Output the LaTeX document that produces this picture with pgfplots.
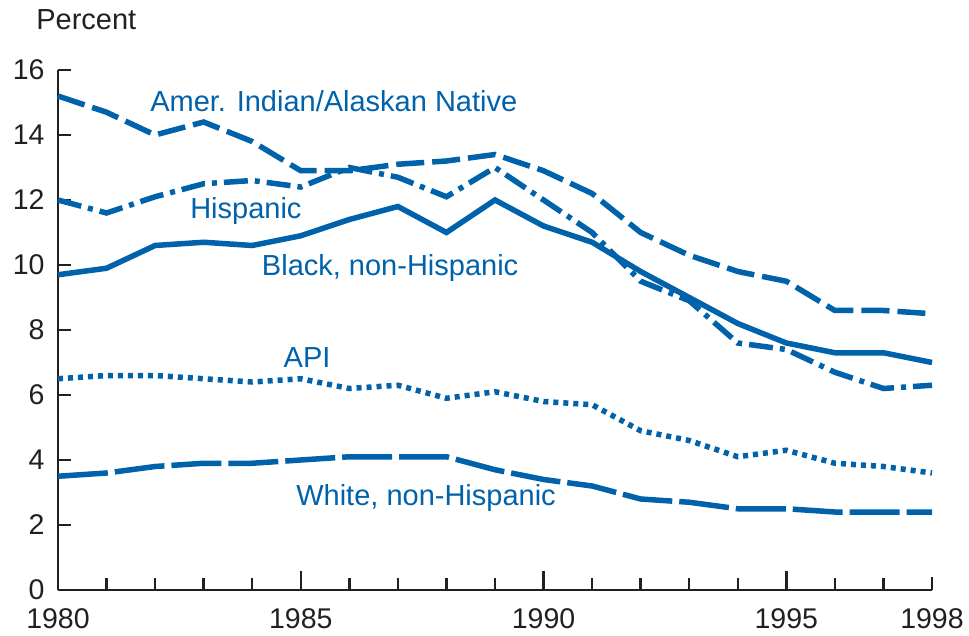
\documentclass[border=0pt]{standalone}
\usepackage{pgfplots}
\pgfplotsset{compat=1.18}
\usepackage{fontspec}
\setmainfont{Liberation Sans}
\definecolor{ersblue}{HTML}{0062AB}
\definecolor{axgray}{HTML}{231F20}
\begin{document}
\begin{tikzpicture}
\begin{axis}[
  scale only axis, width=874pt, height=520pt,
  xmin=1980, xmax=1998, ymin=0, ymax=16,
  axis x line=bottom, axis y line=left,
  axis line style={-, line width=2.4pt, color=axgray},
  every tick/.style={line width=2.4pt, color=axgray},
  tick align=inside,
  major tick length=13pt, minor tick length=12pt,
  xtick={1980,1998},
  extra x ticks={1985,1990,1995},
  extra x tick style={major tick length=19pt},
  minor xtick={1981,1982,1983,1984,1986,1987,1988,1989,1991,1992,1993,1994,1996,1997},
  ytick={0,2,...,16},
  /pgf/number format/assume math mode=true,
  /pgf/number format/1000 sep={},
  tick label style={font=\fontsize{28.5}{33}\selectfont, color=axgray},
  yticklabel style={xshift=-10pt},
  xticklabel style={yshift=-15pt},
  clip=false,
  every axis plot/.append style={color=ersblue, line width=5.5pt, line join=miter},
]
% Amer. Indian/Alaskan Native
\addplot[dash pattern=on 28pt off 8pt] coordinates {
(1980,15.2) (1981,14.7) (1982,14.0) (1983,14.4) (1984,13.8) (1985,12.9) (1986,12.9)
(1987,13.1) (1988,13.2) (1989,13.4) (1990,12.9) (1991,12.2) (1992,11.0) (1993,10.3)
(1994,9.8) (1995,9.5) (1996,8.6) (1997,8.6) (1998,8.5)};
% Hispanic
\addplot[dash pattern=on 24pt off 7pt on 5pt off 7pt] coordinates {
(1980,12.0) (1981,11.6) (1982,12.1) (1983,12.5) (1984,12.6) (1985,12.4) (1986,13.0)
(1987,12.7) (1988,12.1) (1989,13.0) (1990,12.0) (1991,11.0) (1992,9.5) (1993,8.9)
(1994,7.6) (1995,7.4) (1996,6.7) (1997,6.2) (1998,6.3)};
% Black, non-Hispanic
\addplot[solid] coordinates {
(1980,9.7) (1981,9.9) (1982,10.6) (1983,10.7) (1984,10.6) (1985,10.9) (1986,11.4)
(1987,11.8) (1988,11.0) (1989,12.0) (1990,11.2) (1991,10.7) (1992,9.8) (1993,9.0)
(1994,8.2) (1995,7.6) (1996,7.3) (1997,7.3) (1998,7.0)};
% API
\addplot[dash pattern=on 5pt off 5pt] coordinates {
(1980,6.5) (1981,6.6) (1982,6.6) (1983,6.5) (1984,6.4) (1985,6.5) (1986,6.2)
(1987,6.3) (1988,5.9) (1989,6.1) (1990,5.8) (1991,5.7) (1992,4.9) (1993,4.6)
(1994,4.1) (1995,4.3) (1996,3.9) (1997,3.8) (1998,3.6)};
% White, non-Hispanic
\addplot[dash pattern=on 50pt off 7pt] coordinates {
(1980,3.5) (1981,3.6) (1982,3.8) (1983,3.9) (1984,3.9) (1985,4.0) (1986,4.1)
(1987,4.1) (1988,4.1) (1989,3.7) (1990,3.4) (1991,3.2) (1992,2.8) (1993,2.7)
(1994,2.5) (1995,2.5) (1996,2.4) (1997,2.4) (1998,2.4)};

\begin{scope}[every node/.style={font=\fontsize{29}{34}\selectfont, text=ersblue, inner sep=0pt}]
\node at (axis cs:1985.68,15.05) {Amer. Indian/Alaskan Native};
\node at (axis cs:1983.87,11.66) {Hispanic};
\node at (axis cs:1986.84,9.91) {Black, non-Hispanic};
\node at (axis cs:1985.13,7.14) {API};
\node at (axis cs:1987.58,2.83) {White, non-Hispanic};
\end{scope}
\node[anchor=west, inner sep=0pt, font=\fontsize{29}{34}\selectfont, text=axgray] at (axis cs:1979.55,17.54) {Percent};
\coordinate (BL) at (rel axis cs:0,0);
\coordinate (TR) at (rel axis cs:1,1);
\end{axis}
\pgfresetboundingbox
\useasboundingbox ([shift={(-58pt,-45pt)}]BL) rectangle ([shift={(37pt,70pt)}]TR);
\end{tikzpicture}
\end{document}
